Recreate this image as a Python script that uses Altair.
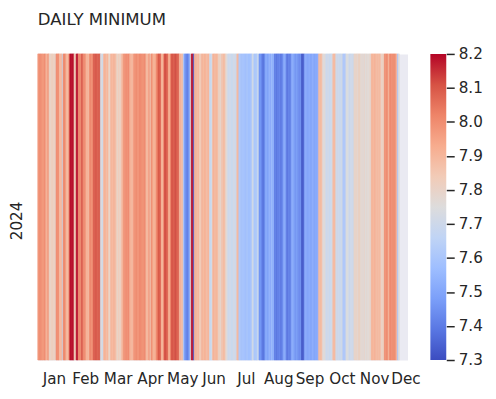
import altair as alt
import pandas as pd

# ---- data (one value per day, 2024) ----
daily_min = [
    8.0, 7.98, 8.02, 7.97, 8.0, 7.95, 8.01, 7.99,
    7.9, 7.92,
    8.0,
    7.82, 7.8, 7.81, 7.83, 7.8, 7.82, 7.79,
    8.0, 7.98, 8.02,
    7.9, 7.88, 7.92,
    7.7,
    8.0, 8.02, 7.98,
    7.9, 7.88, 7.91,
    8.1,
    8.2, 8.18, 8.2, 8.17,
    7.82, 7.85,
    8.18, 8.2,
    8.0, 8.02, 7.99,
    8.1, 8.08,
    8.0, 8.01, 7.98,
    7.9, 7.92, 7.88,
    8.0, 8.02, 7.99, 8.01,
    8.1, 8.09, 8.11, 8.1, 8.08, 8.1, 8.1,
    7.72, 7.74, 7.7,
    7.9, 7.92, 7.9, 7.88, 7.91,
    7.82, 7.8,
    7.9, 7.91, 7.89, 7.92, 7.9, 7.88,
    7.82, 7.8, 7.84, 7.8, 7.83,
    7.9, 7.92,
    8.0, 7.98, 8.01, 8.0, 7.99, 8.02,
    7.9, 7.92, 7.89, 7.91,
    8.0, 7.98, 8.01, 8.0, 7.97, 8.0, 8.02, 7.99, 8.0, 7.98, 8.01, 8.0,
    7.9, 7.88, 7.91,
    8.0, 7.82, 8.0, 7.98,
    7.9, 7.92, 7.9,
    8.0, 8.02,
    8.1, 8.08, 8.1,
    7.92, 7.88, 7.95,
    8.1, 8.12, 8.08, 8.1,
    7.95, 7.9, 8.0,
    8.1, 8.11, 8.09, 8.1, 8.12, 8.1, 8.08, 8.1,
    7.9, 7.92, 7.88, 7.9,
    7.62,
    7.48, 7.45, 7.42, 7.4, 7.45, 7.5,
    7.78,
    8.2, 8.18,
    7.33,
    7.9, 7.92, 7.9, 7.88, 7.91,
    7.82, 7.84,
    7.9, 7.91, 7.89, 7.92, 7.9, 7.88, 7.9, 7.91,
    7.7, 7.68, 7.72,
    7.9, 7.92, 7.89, 7.9, 7.91, 7.88,
    7.8, 7.82, 7.79,
    7.88, 7.86, 7.9, 7.87,
    7.78, 7.76,
    7.7, 7.69, 7.71, 7.7, 7.68, 7.7, 7.72, 7.7, 7.69,
    7.88, 7.9,
    7.6, 7.62, 7.58, 7.6,
    7.58, 7.6, 7.57, 7.59, 7.6, 7.58, 7.57, 7.6, 7.58,
    7.72, 7.7,
    7.6, 7.62, 7.6,
    7.68, 7.7,
    7.45, 7.47, 7.44,
    7.4, 7.38, 7.41,
    7.5, 7.52, 7.49, 7.5,
    7.55, 7.5, 7.58, 7.52, 7.56,
    7.4, 7.42, 7.38, 7.41, 7.4, 7.43, 7.39, 7.4, 7.42,
    7.5, 7.52, 7.49,
    7.4, 7.38, 7.42, 7.4, 7.41,
    7.5, 7.52, 7.5,
    7.47, 7.45, 7.48, 7.46,
    7.44, 7.43, 7.45,
    7.32, 7.33, 7.35,
    7.5, 7.52, 7.5, 7.49,
    7.5, 7.51, 7.49, 7.5, 7.52, 7.5, 7.49, 7.51, 7.5, 7.52,
    7.9, 7.88, 7.9, 7.87,
    7.76, 7.75, 7.77,
    7.7, 7.69, 7.71, 7.7, 7.68, 7.7, 7.71,
    7.88, 7.9, 7.89,
    7.7, 7.71, 7.69, 7.7, 7.68, 7.7, 7.72,
    7.6, 7.62, 7.61,
    7.74, 7.75, 7.73,
    7.7, 7.69, 7.71, 7.7, 7.7,
    7.8, 7.79, 7.81, 7.78, 7.8, 7.82, 7.79,
    7.77, 7.78, 7.76, 7.8, 7.75, 7.78, 7.77, 7.76, 7.79, 7.77,
    7.9, 7.91, 7.89, 7.92, 7.9, 7.88, 7.9,
    7.88, 7.9, 7.87,
    7.8, 7.82, 7.81,
    8.0, 7.98, 8.01, 8.0,
    7.9,
    8.0, 8.02, 7.99, 8.0,
    8.0, 8.01, 7.98,
    7.9,
    7.6,
    7.75,
]
year_label = "2024"
n_days = 366
month_labels = ["Jan", "Feb", "Mar", "Apr", "May", "Jun",
                "Jul", "Aug", "Sep", "Oct", "Nov", "Dec"]
month_ticks = [16, 47, 79, 111, 143, 174, 206, 238, 269, 301, 333, 364]
cbar_ticks = [7.3, 7.4, 7.5, 7.6, 7.7, 7.8, 7.9, 8.0, 8.1, 8.2]
vmin, vmax = 7.3, 8.2
coolwarm = ["#3b4cc0", "#5977e3", "#7b9ff9", "#9ebeff", "#c0d4f5", "#dddcdc",
            "#f2cbb7", "#f7ac8e", "#ee8468", "#d65244", "#b40426"]

TEXT = "#262626"
FONT = "DejaVu Sans"

df = pd.DataFrame({"day": list(range(len(daily_min))), "value": daily_min})
df["year"] = year_label
df["end"] = df["day"] + 1

domain_pts = [vmin + (vmax - vmin) * i / (len(coolwarm) - 1) for i in range(len(coolwarm))]
cscale = alt.Scale(domain=domain_pts, range=coolwarm, interpolate="rgb")

label_expr = ("[" + ",".join(f"'{m}'" for m in month_labels) + "][indexof(["
              + ",".join(str(t) for t in month_ticks) + "], datum.value)]")

heat = alt.Chart(df).mark_rect(strokeWidth=0.6).encode(
    x=alt.X("day:Q",
            scale=alt.Scale(domain=[0, n_days], nice=False, zero=False),
            axis=alt.Axis(values=month_ticks, labelExpr=label_expr, title=None,
                          ticks=False, domain=False, grid=False, labelPadding=12,
                          labelFlush=False, labelOverlap=False, labelFontSize=15.28,
                          labelColor=TEXT, labelFont=FONT)),
    x2="end:Q",
    y=alt.Y("year:N",
            scale=alt.Scale(paddingInner=0, paddingOuter=0),
            axis=alt.Axis(title=None, ticks=False, domain=False, grid=False,
                          labelAngle=270, labelAlign="center", labelBaseline="bottom",
                          labelPadding=13, labelOffset=14, minExtent=30, maxExtent=30,
                          labelFontSize=15.28, labelColor=TEXT, labelFont=FONT,
                          orient="left")),
    color=alt.Color("value:Q", scale=cscale, legend=None),
    stroke=alt.Stroke("value:Q", scale=cscale, legend=None),
)

cbar_df = pd.DataFrame({"lo": [vmin], "hi": [vmax]})
grad = alt.LinearGradient(
    gradient="linear",
    stops=[alt.GradientStop(color=c, offset=i / (len(coolwarm) - 1)) for i, c in enumerate(coolwarm)],
    x1=0, x2=0, y1=1, y2=0,
)
cbar = alt.Chart(cbar_df).mark_rect(fill=grad).encode(
    x=alt.value(395),
    x2=alt.value(411),
    y=alt.Y("lo:Q",
            scale=alt.Scale(domain=[vmin, vmax], nice=False, zero=False),
            axis=alt.Axis(orient="right", offset=39, values=cbar_ticks, format=".1f",
                          title=None, grid=False, domain=False, tickSize=8,
                          tickWidth=1.5, tickColor=TEXT, labelPadding=4,
                          labelFontSize=15.28, labelColor=TEXT, labelFont=FONT)),
    y2="hi:Q",
)

chart = alt.layer(heat, cbar).resolve_scale(y="independent", color="independent").properties(
    width=372,
    height=308,
    title=alt.TitleParams("DAILY MINIMUM", anchor="start", frame="group", fontSize=16.67,
                          font=FONT, fontWeight="normal", color=TEXT, offset=18),
    padding={"left": 0, "top": 3, "right": 5, "bottom": 5},
).configure(font=FONT).configure_view(fill="#EAEAF2", stroke="transparent")

chart.save("out.html", embed_options={"renderer": "svg", "actions": False})
